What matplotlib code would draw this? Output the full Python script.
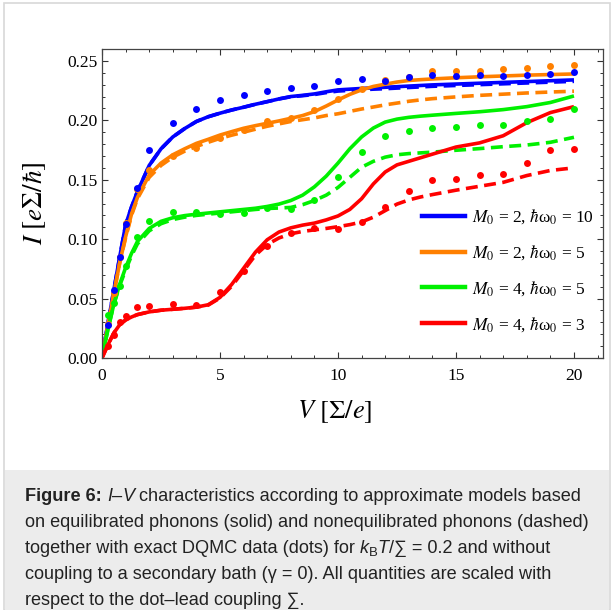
import matplotlib
matplotlib.use("Agg")
import matplotlib.pyplot as plt
from matplotlib.lines import Line2D
from matplotlib.patches import Rectangle
from matplotlib.ticker import MultipleLocator, FormatStrFormatter

plt.rcParams["mathtext.fontset"] = "stix"
plt.rcParams["font.family"] = ["Liberation Serif", "DejaVu Serif"]

# model curves
V_curve = [0, 0.25, 0.5, 0.75, 1, 1.25, 1.5, 2, 2.5, 3, 3.5, 4, 4.5, 5, 5.5, 6, 6.5, 7, 7.5,
           8, 8.5, 9, 9.5, 10, 10.5, 11, 11.5, 12, 12.5, 13, 13.5, 14, 15, 16, 17, 18, 19, 20]

blue_solid = [0, 0.029, 0.057, 0.085, 0.112, 0.127, 0.140, 0.162, 0.176, 0.186, 0.193, 0.199, 0.203,
              0.206, 0.2087, 0.211, 0.2135, 0.2157, 0.218, 0.220, 0.221, 0.2222, 0.224, 0.2256, 0.2262,
              0.2268, 0.2273, 0.2278, 0.2283, 0.2288, 0.2293, 0.2298, 0.2305, 0.2312, 0.2319, 0.2326,
              0.2333, 0.234]
blue_dashed = [0, 0.029, 0.057, 0.085, 0.112, 0.127, 0.140, 0.162, 0.176, 0.186, 0.193, 0.199, 0.203,
               0.206, 0.2087, 0.211, 0.2135, 0.2157, 0.218, 0.2198, 0.2207, 0.2217, 0.2233, 0.2246,
               0.2252, 0.2257, 0.2262, 0.2266, 0.2271, 0.2276, 0.2281, 0.2286, 0.2293, 0.230, 0.2307,
               0.2314, 0.2321, 0.2328]
orange_solid = [0, 0.027, 0.054, 0.080, 0.102, 0.121, 0.135, 0.154, 0.164, 0.171, 0.176, 0.1806, 0.184,
                0.1876, 0.1905, 0.1933, 0.1955, 0.1975, 0.1995, 0.2017, 0.204, 0.2073, 0.212, 0.2171,
                0.2218, 0.2256, 0.2285, 0.2304, 0.2322, 0.2335, 0.2342, 0.2348, 0.2358, 0.2366, 0.2373,
                0.238, 0.2385, 0.239]
orange_dashed = [0, 0.027, 0.054, 0.080, 0.101, 0.120, 0.134, 0.152, 0.162, 0.169, 0.174, 0.178, 0.1815,
                 0.1848, 0.1875, 0.190, 0.1925, 0.195, 0.197, 0.199, 0.2005, 0.202, 0.204, 0.2055, 0.2075,
                 0.2095, 0.2112, 0.213, 0.2145, 0.216, 0.2172, 0.2182, 0.2197, 0.221, 0.222, 0.223,
                 0.2238, 0.2245]
green_solid = [0, 0.024, 0.045, 0.062, 0.076, 0.088, 0.098, 0.109, 0.115, 0.118, 0.1198, 0.121, 0.122,
               0.123, 0.124, 0.125, 0.126, 0.1275, 0.1295, 0.1325, 0.137, 0.144, 0.153, 0.164, 0.176,
               0.186, 0.1935, 0.1985, 0.201, 0.2025, 0.2035, 0.2043, 0.2058, 0.2072, 0.209, 0.2115,
               0.215, 0.2205]
green_dashed = [0, 0.024, 0.045, 0.061, 0.074, 0.086, 0.096, 0.107, 0.113, 0.1165, 0.1185, 0.120, 0.121,
                0.122, 0.123, 0.124, 0.125, 0.1258, 0.1262, 0.1267, 0.129, 0.1325, 0.137, 0.1435, 0.152,
                0.1605, 0.1655, 0.169, 0.171, 0.172, 0.1726, 0.1732, 0.1748, 0.1762, 0.1778, 0.1792,
                0.1815, 0.1857]
red_solid = [0, 0.011, 0.021, 0.028, 0.032, 0.0345, 0.0365, 0.0388, 0.0402, 0.041, 0.0418, 0.0428, 0.0448,
             0.051, 0.062, 0.0755, 0.089, 0.0995, 0.106, 0.1095, 0.1118, 0.1135, 0.1162, 0.1195, 0.125,
             0.134, 0.1465, 0.1565, 0.1625, 0.1655, 0.1685, 0.1715, 0.1775, 0.181, 0.187, 0.198, 0.2065,
             0.2115]
red_dashed = [0, 0.011, 0.021, 0.028, 0.032, 0.0345, 0.0365, 0.0388, 0.0402, 0.041, 0.0418, 0.0428, 0.0445,
              0.0505, 0.0605, 0.0735, 0.0865, 0.0955, 0.101, 0.1045, 0.1065, 0.1078, 0.109, 0.1105,
              0.1122, 0.1145, 0.1185, 0.124, 0.1295, 0.133, 0.1355, 0.1375, 0.1412, 0.1445, 0.1478,
              0.1535, 0.1578, 0.160]

# DQMC data points
V_dots = [0.25, 0.5, 0.75, 1, 1.5, 2, 3, 4, 5, 6, 7, 8, 9, 10, 11, 12, 13, 14, 15, 16, 17, 18, 19, 20]
blue_dots = [0.028, 0.057, 0.085, 0.113, 0.143, 0.175, 0.198, 0.2096, 0.217, 0.2214, 0.2247, 0.2272,
             0.229, 0.233, 0.2346, 0.2334, 0.2362, 0.2382, 0.2374, 0.238, 0.2371, 0.238, 0.239, 0.241]
orange_dots = [0.029, 0.055, 0.085, 0.114, 0.142, 0.158, 0.170, 0.177, 0.185, 0.192, 0.1997, 0.202,
               0.2088, 0.218, 0.226, 0.234, 0.2368, 0.2416, 0.2416, 0.2416, 0.2435, 0.2444, 0.246, 0.2464]
green_dots = [0.036, 0.046, 0.061, 0.077, 0.102, 0.115, 0.1228, 0.1225, 0.1208, 0.1217, 0.1259, 0.1253,
              0.1329, 0.152, 0.173, 0.187, 0.191, 0.1933, 0.1941, 0.1958, 0.1958, 0.1992, 0.2011, 0.2093]
red_dots = [0.010, 0.019, 0.030, 0.0354, 0.043, 0.0438, 0.0458, 0.045, 0.0556, 0.0732, 0.094, 0.1048,
            0.109, 0.1087, 0.1142, 0.1268, 0.1408, 0.1497, 0.1508, 0.154, 0.1549, 0.164, 0.175, 0.1759]

labels = [r"$M_0$ = 2, $\hbar$ω$_0$ = 10", r"$M_0$ = 2, $\hbar$ω$_0$ = 5",
          r"$M_0$ = 4, $\hbar$ω$_0$ = 5", r"$M_0$ = 4, $\hbar$ω$_0$ = 3"]
colors = ["#0000ff", "#ff8000", "#00f000", "#ff0000"]

W, H = 613, 610
fig = plt.figure(figsize=(W / 100, H / 100), dpi=100)

# page frame and caption box
fig.patches.append(Rectangle((4 / W, 0), 606 / W, 1 - 3 / H, transform=fig.transFigure,
                             facecolor="white", edgecolor="#d8d8d8", lw=1.2, zorder=-2))
fig.patches.append(Rectangle((5 / W, 0), 604 / W, 140 / H, transform=fig.transFigure,
                             facecolor="#ececec", edgecolor="none", zorder=-1))

ax = fig.add_axes([102 / W, 1 - 358 / H, 501 / W, 309 / H])
ax.patch.set_alpha(0)

series = [(blue_solid, blue_dashed, blue_dots), (orange_solid, orange_dashed, orange_dots),
          (green_solid, green_dashed, green_dots), (red_solid, red_dashed, red_dots)]

# draw red first so blue ends up on top
for i in range(3, -1, -1):
    solid, dashed, dots = series[i]
    ax.plot(V_curve, solid, color=colors[i], lw=2.6, solid_capstyle="butt", zorder=2 + i * 0.1)
    ax.plot(V_curve, dashed, color=colors[i], lw=2.6, ls=(0, (3.3, 1.8)), zorder=2 + i * 0.1)
for i in range(3, -1, -1):
    ax.plot(V_dots, series[i][2], "o", color=colors[i], ms=5, mec="none", zorder=3)

ax.set_xlim(0, 21.23)
ax.set_ylim(0, 0.26)
ax.xaxis.set_major_locator(MultipleLocator(5))
ax.xaxis.set_minor_locator(MultipleLocator(1))
ax.yaxis.set_major_locator(MultipleLocator(0.05))
ax.yaxis.set_minor_locator(MultipleLocator(0.01))
ax.yaxis.set_major_formatter(FormatStrFormatter("%.2f"))
ax.tick_params(which="both", direction="in", top=True, right=True, colors="#333333",
               labelsize=12.5, labelcolor="black")
ax.tick_params(which="major", length=4.5, width=0.8)
ax.tick_params(which="minor", length=2.3, width=0.7)
ax.tick_params(axis="x", pad=7.5)
ax.tick_params(axis="y", pad=3)
for s in ax.spines.values():
    s.set_color("#444444")
    s.set_linewidth(0.9)

ax.set_xlabel(r"$V\ [\Sigma/e]$", fontsize=19)
ax.set_ylabel(r"$I\ [e\Sigma/\hbar]$", fontsize=19.5)
ax.xaxis.set_label_coords(0.465, -0.131)
ax.yaxis.set_label_coords(-0.108, 0.5)

handles = [Line2D([], [], color=c, lw=3.2) for c in colors]
ax.legend(handles, labels, loc="upper left", bbox_to_anchor=(0.639, 0.487), frameon=False,
          fontsize=12.5, handlelength=2.47, handletextpad=0.42, labelspacing=0.98,
          borderpad=0, borderaxespad=0)

# caption
renderer = fig.canvas.get_renderer()
cap_font = ["Liberation Sans", "DejaVu Sans"]
cap_size = 13.1
bar = fig.text(0, 0, "|", family=cap_font, fontsize=cap_size)
bar_w = bar.get_window_extent(renderer).width
bar.remove()


def caption_line(y_px, parts):
    x = 25 / W
    for text, style in parts:
        size = cap_size * 0.72 if style == "sub" else cap_size
        dy = -3 if style == "sub" else 0
        kw = dict(family=cap_font, fontsize=size, color="#222222", va="baseline")
        if style == "bold":
            kw["weight"] = "bold"
        if style == "italic":
            kw["style"] = "italic"
        fig.text(x, 1 - (y_px - dy) / H, text, **kw)
        probe = fig.text(0, 0, text + "|", **kw)
        w = probe.get_window_extent(renderer).width - bar_w * (size / cap_size)
        probe.remove()
        x += w / W


caption_line(501, [("Figure 6:", "bold"), (" ", "normal"), ("I", "italic"), ("–", "normal"),
                   ("V", "italic"), (" characteristics according to approximate models based", "normal")])
caption_line(527, [("on equilibrated phonons (solid) and nonequilibrated phonons (dashed)", "normal")])
caption_line(553, [("together with exact DQMC data (dots) for ", "normal"), ("k", "italic"), ("B", "sub"),
                   ("T", "italic"), ("/∑ = 0.2 and without", "normal")])
caption_line(579, [("coupling to a secondary bath (γ = 0). All quantities are scaled with", "normal")])
caption_line(605, [("respect to the dot–lead coupling ∑.", "normal")])

fig.savefig("out.png", dpi=100)
